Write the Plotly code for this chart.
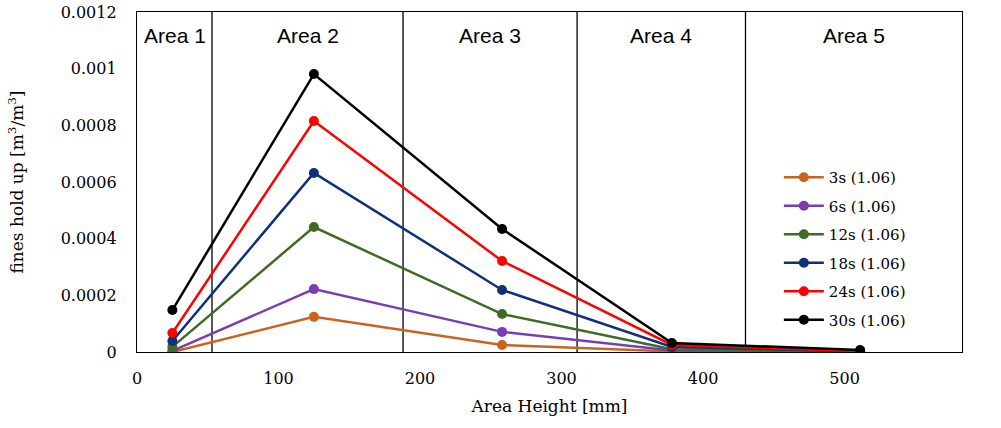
import plotly.graph_objects as go

heights = [25, 125, 258, 378, 511]
series_names = ["3s (1.06)", "6s (1.06)", "12s (1.06)", "18s (1.06)", "24s (1.06)", "30s (1.06)"]
s3 = [0.0, 0.000124, 0.000025, 0.000002, 0.0]
s6 = [0.000004, 0.000222, 0.000071, 0.000005, 0.0]
s12 = [0.000018, 0.000441, 0.000134, 0.00001, 0.000001]
s18 = [0.000039, 0.000632, 0.000219, 0.000018, 0.000002]
s24 = [0.000067, 0.000815, 0.000321, 0.000025, 0.000003]
s30 = [0.000148, 0.000981, 0.000434, 0.000032, 0.000007]
colors = ["#C8641E", "#7A3DB0", "#3E6B25", "#10307A", "#FF0000", "#000000"]
area_bounds = [0, 53, 188, 311, 430, 583]
area_labels = ["Area 1", "Area 2", "Area 3", "Area 4", "Area 5"]
x_ticks = [0, 100, 200, 300, 400, 500]
y_ticks = [0, 0.0002, 0.0004, 0.0006, 0.0008, 0.001, 0.0012]
y_tick_text = ["0", "0.0002", "0.0004", "0.0006", "0.0008", "0.001", "0.0012"]

serif = "DejaVu Serif, Liberation Serif, serif"

fig = go.Figure()
for name, vals, c in zip(series_names, [s3, s6, s12, s18, s24, s30], colors):
    fig.add_trace(go.Scatter(
        x=heights, y=vals, name=name, mode="lines+markers", legendgroup=name,
        line=dict(color=c, width=2.5),
        marker=dict(color=c, size=10),
    ))

for b in area_bounds[1:-1]:
    fig.add_shape(type="line", x0=b, x1=b, y0=0, y1=1, xref="x", yref="y domain",
                  line=dict(color="#000000", width=1.3), layer="below")

for i, lab in enumerate(area_labels):
    fig.add_annotation(x=(area_bounds[i] + area_bounds[i + 1]) / 2, y=0.932,
                       xref="x", yref="paper", yanchor="middle", text=lab, showarrow=False,
                       font=dict(family="Liberation Sans, Arial, sans-serif",
                                 size=21, color="#000000"))

fig.update_layout(
    width=1001, height=428,
    margin=dict(l=137, r=39, t=12, b=76),
    paper_bgcolor="white", plot_bgcolor="white",
    font=dict(family=serif, size=15, color="#000000"),
    showlegend=True,
    legend=dict(x=0.778, y=0.562, xanchor="left", yanchor="top",
                bgcolor="rgba(0,0,0,0)", font=dict(family=serif, size=15),
                tracegroupgap=6, itemwidth=40),
    xaxis=dict(range=[0, area_bounds[-1]], tickvals=x_ticks, showgrid=False,
               zeroline=False, showline=True, linecolor="#000000", linewidth=1.3,
               mirror=True, ticks="outside", ticklen=12, tickcolor="white",
               tickfont=dict(size=16), automargin=False,
               title=dict(text="Area Height [mm]", font=dict(family=serif, size=17), standoff=12)),
    yaxis=dict(range=[0, 0.0012], tickvals=y_ticks, ticktext=y_tick_text, showgrid=False,
               zeroline=False, showline=True, linecolor="#000000", linewidth=1.3,
               mirror=True, ticks="outside", ticklen=16, tickcolor="white",
               tickfont=dict(size=16), automargin=False,
               title=dict(text="fines hold up [m<sup>3</sup>/m<sup>3</sup>]",
                          font=dict(family=serif, size=17), standoff=32)),
)

fig.write_html("out.html")
